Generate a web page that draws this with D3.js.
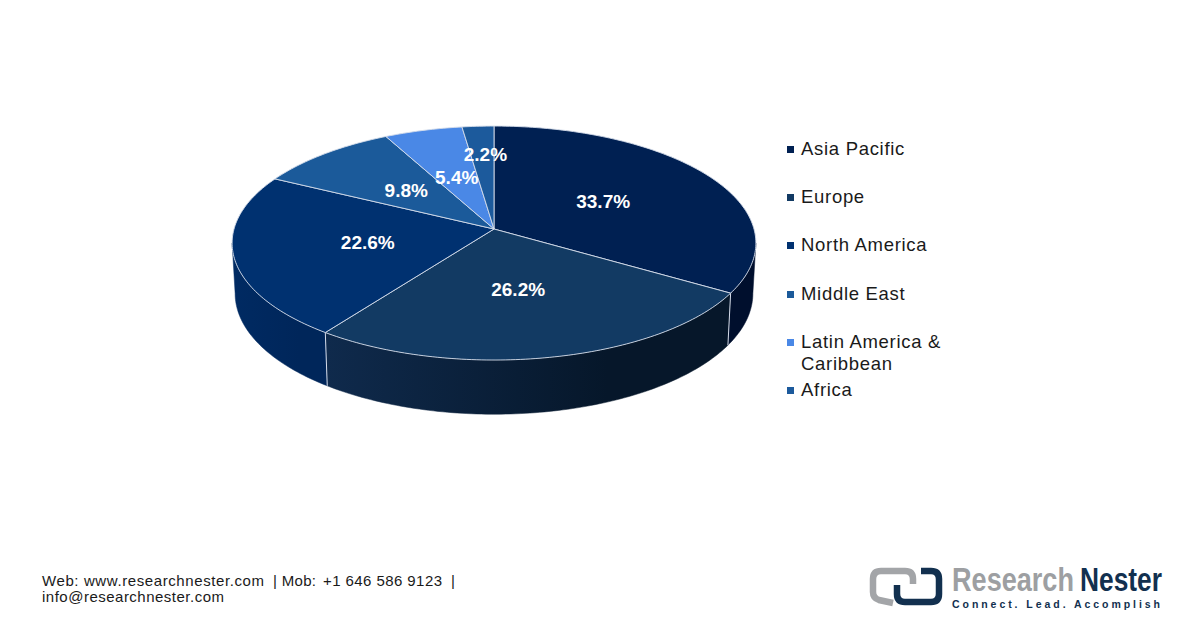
<!DOCTYPE html>
<html>
<head>
<meta charset="utf-8">
<script src="https://cdn.jsdelivr.net/npm/d3@7"></script>
<style>
  html, body { margin: 0; padding: 0; background: #fff; }
  svg { display: block; }
  text { font-family: "Liberation Sans", Arial, sans-serif; }
</style>
</head>
<body>
<div id="chart"></div>
<script>
// market share by region
const regions = ["Asia Pacific", "Europe", "North America", "Middle East", "Latin America & Caribbean", "Africa"]
const shares = [33.7, 26.2, 22.6, 9.8, 5.4, 2.2]
const shareLabels = ["33.7%", "26.2%", "22.6%", "9.8%", "5.4%", "2.2%"]
const topColors = ["#002052", "#123a63", "#003170", "#1b5a9a", "#4a88e6", "#1c5a9c"]
const sideFrom = ["#000f2d", "#0f2a4c", "#002a62", "#000f2d", "#000f2d", "#000f2d"]
const sideTo = ["#000f2d", "#06172a", "#00265a", "#000f2d", "#000f2d", "#000f2d"]
const legendLines = [["Asia Pacific"], ["Europe"], ["North America"], ["Middle East"], ["Latin America &", "Caribbean"], ["Africa"]]

const width = 1200, height = 628

const svg = d3.select("#chart").append("svg")
    .attr("width", width)
    .attr("height", height)
const defs = svg.append("defs")

/* ---------- 3D pie projection: a circle seen in perspective ---------- */
const cx = 494
const tilt = 0.12
const topFace = { r: 260, cy: 229, b: 115.3 }
const bottomFace = { r: 257, cy: 279, b: 119 }

const project = (angle, rad, face) => {
    const u = Math.sin(angle) * rad
    const v = -Math.cos(angle) * rad
    const w = 1 - tilt * v
    return [cx + face.r * u / w, face.cy + face.b * v / w]
}

const rim = (a0, a1, face) => {
    const n = Math.max(2, Math.ceil((a1 - a0) * 60))
    return d3.range(n + 1).map(i => project(a0 + (a1 - a0) * i / n, 1, face))
}

const arcs = d3.pie().sort(null).value(d => d)(shares)
const line = d3.line()
const edge = "#d5dcea"

// wall is only seen between the two silhouette tangents
const wallStart = Math.PI - Math.acos(tilt)
const wallEnd = Math.PI + Math.acos(tilt)

arcs.forEach((d, i) => {
    const a0 = Math.max(d.startAngle, wallStart)
    const a1 = Math.min(d.endAngle, wallEnd)
    if (a1 <= a0) return
    const top = rim(a0, a1, topFace)
    const bottom = rim(a0, a1, bottomFace)
    const grad = defs.append("linearGradient")
        .attr("id", "side" + i)
        .attr("gradientUnits", "userSpaceOnUse")
        .attr("x1", d3.min(bottom, p => p[0])).attr("x2", d3.max(bottom, p => p[0]))
        .attr("y1", 0).attr("y2", 0)
    grad.append("stop").attr("offset", 0).attr("stop-color", sideFrom[i])
    grad.append("stop").attr("offset", 0.7).attr("stop-color", sideTo[i])
    svg.append("path")
        .attr("d", line(top.concat(bottom.reverse())) + "Z")
        .attr("fill", "url(#side" + i + ")")
        .attr("stroke", "url(#side" + i + ")")
        .attr("stroke-width", 0.5)
})

// white lines between the walls
arcs.forEach(d => {
    if (d.endAngle > wallStart && d.endAngle < wallEnd) {
        svg.append("path")
            .attr("d", line([project(d.endAngle, 1, topFace), project(d.endAngle, 1, bottomFace)]))
            .attr("stroke", edge)
            .attr("stroke-width", 1)
            .attr("fill", "none")
    }
})

// top face
arcs.forEach((d, i) => {
    const pts = [[cx, topFace.cy]].concat(rim(d.startAngle, d.endAngle, topFace))
    svg.append("path")
        .attr("d", line(pts) + "Z")
        .attr("fill", topColors[i])
        .attr("stroke", edge)
        .attr("stroke-width", 0.9)
        .attr("stroke-linejoin", "round")
})

// data labels
const labelRadius = [0.5, 0.5, 0.5, 0.5, 0.5, 0.7]
const labelNudge = [-1, -3, 2, 0.5, 0, 3]
arcs.forEach((d, i) => {
    const p = project((d.startAngle + d.endAngle) / 2, labelRadius[i], topFace)
    svg.append("text")
        .attr("x", p[0] + labelNudge[i])
        .attr("y", p[1])
        .attr("dy", "0.35em")
        .attr("text-anchor", "middle")
        .attr("fill", "#fff")
        .attr("font-size", 19)
        .attr("font-weight", "bold")
        .text(shareLabels[i])
})

/* ---------- legend ---------- */
const legendCenter = [149, 197, 245, 294, 342, 390]

regions.forEach((name, i) => {
    const y = legendCenter[i]
    svg.append("rect")
        .attr("x", 787).attr("y", y - 3)
        .attr("width", 7).attr("height", 7)
        .attr("fill", topColors[i])
    legendLines[i].forEach((txt, j) => {
        svg.append("text")
            .attr("x", 801)
            .attr("y", y + 6 + j * 21.5)
            .attr("font-size", 18.5)
            .attr("letter-spacing", 0.7)
            .attr("fill", "#1a1a1a")
            .text(txt)
    })
})

/* ---------- footer ---------- */
const footerParts = [
    ["Web: www.researchnester.com", 42, 586, 222],
    ["| Mob:", 273, 586, 43],
    ["+1 646 586 9123", 323, 586, 119],
    ["|", 451, 586, 3],
    ["info@researchnester.com", 42, 602, 182]
]
const footer = svg.append("g")
    .attr("font-size", 15)
    .attr("fill", "#1a1a1a")
footerParts.forEach(p => {
    footer.append("text")
        .attr("x", p[1]).attr("y", p[2])
        .attr("textLength", p[3])
        .text(p[0])
})

/* ---------- logo ---------- */
const logo = svg.append("g")
logo.append("path")
    .attr("d", "M913 584 V579 Q913 571 905 571 H881 Q873 571 873 579 V592 Q873 598 879 600 L893 603")
    .attr("fill", "none").attr("stroke", "#a3a5a8").attr("stroke-width", 6.5)
logo.append("path")
    .attr("d", "M921 571 H931 Q939 571 939 579 V594 Q939 602 931 602 H905 Q897 602 897 594 V585")
    .attr("fill", "none").attr("stroke", "#12304f").attr("stroke-width", 6.5)

// squeeze the wordmark horizontally so it fits the logo width
const wordmark = (txt, x, w, color) => {
    const t = logo.append("text")
        .attr("font-size", 33).attr("font-weight", "bold")
        .attr("fill", color)
        .text(txt)
    const sx = w / t.node().getComputedTextLength()
    t.attr("transform", "translate(" + x + ",591) scale(" + sx + ",1)")
}
wordmark("Research", 952, 122, "#9d9fa2")
wordmark("Nester", 1080, 82, "#12304f")

logo.append("text")
    .attr("x", 952).attr("y", 607.5)
    .attr("font-size", 10.5).attr("font-weight", "bold")
    .attr("fill", "#12304f")
    .attr("textLength", 208)
    .text("Connect. Lead. Accomplish")
</script>
</body>
</html>
